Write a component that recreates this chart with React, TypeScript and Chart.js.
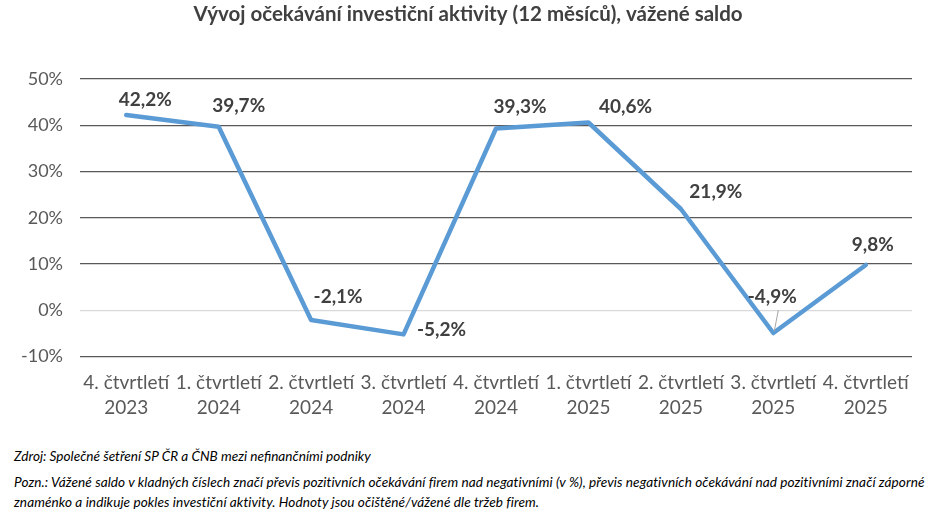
import React, { useEffect, useRef } from "react";
import { Chart, registerables } from "chart.js";

Chart.register(...registerables);

const categories: string[][] = [
  ["4. čtvrtletí", "2023"],
  ["1. čtvrtletí", "2024"],
  ["2. čtvrtletí", "2024"],
  ["3. čtvrtletí", "2024"],
  ["4. čtvrtletí", "2024"],
  ["1. čtvrtletí", "2025"],
  ["2. čtvrtletí", "2025"],
  ["3. čtvrtletí", "2025"],
  ["4. čtvrtletí", "2025"],
];
const saldo: number[] = [42.2, 39.7, -2.1, -5.2, 39.3, 40.6, 21.9, -4.9, 9.8];
const yTicks: number[] = [50, 40, 30, 20, 10, 0, -10];

const TITLE = "Vývoj očekávání investiční aktivity (12 měsíců), vážené saldo";
const SOURCE = "Zdroj: Společné šetření SP ČR a ČNB mezi nefinančními podniky";
const NOTE_LINES: string[] = [
  "Pozn.: Vážené saldo v kladných číslech značí převis pozitivních očekávání firem nad negativními (v %), převis negativních očekávání nad pozitivními značí záporné",
  "znaménko a indikuje pokles investiční aktivity. Hodnoty jsou očištěné/vážené dle tržeb firem.",
];

// label placement (pixel offsets of label centre from point), styling only
const labelOffsets: [number, number][] = [
  [19, -15],
  [20, -21],
  [27, -23],
  [38, -5],
  [24, -22],
  [37, -16],
  [35, -17],
  [-1, -36],
  [7, -20],
];
const leaderIndex = 7;

const fmt = (v: number) => v.toFixed(1).replace(".", ",") + "%";

const titlePlugin = {
  id: "centeredTitle",
  afterDraw(chart: any) {
    const ctx = chart.ctx;
    ctx.save();
    ctx.font = "bold 20.5px Lato";
    ctx.fillStyle = "#404040";
    ctx.textAlign = "center";
    ctx.textBaseline = "middle";
    ctx.fillText(TITLE, chart.width / 2 - 2, 14);
    ctx.restore();
  },
};

const labelPlugin = {
  id: "valueLabels",
  afterDatasetsDraw(chart: any) {
    const ctx = chart.ctx;
    const meta = chart.getDatasetMeta(0);
    ctx.save();
    meta.data.forEach((pt: any, i: number) => {
      const [dx, dy] = labelOffsets[i];
      const x = pt.x + dx;
      const y = pt.y + dy;
      if (i === leaderIndex) {
        ctx.strokeStyle = "#a6a6a6";
        ctx.lineWidth = 1;
        ctx.beginPath();
        ctx.moveTo(pt.x + 1, pt.y - 2);
        ctx.lineTo(pt.x + 5, pt.y - 23);
        ctx.stroke();
      }
      ctx.font = "bold 19px Lato";
      ctx.fillStyle = "#404040";
      ctx.textAlign = "center";
      ctx.textBaseline = "middle";
      ctx.fillText(fmt(saldo[i]), x, y);
    });
    ctx.restore();
  },
};

export default function App() {
  const ref = useRef<HTMLCanvasElement | null>(null);
  useEffect(() => {
    document.body.style.margin = "0";
    const canvas = ref.current!;
    const chart = new Chart(canvas, {
      type: "line",
      data: {
        labels: categories,
        datasets: [
          {
            data: saldo,
            borderColor: "#5b9bd5",
            borderWidth: 4.5,
            pointRadius: 0,
            tension: 0,
            borderCapStyle: "round",
            borderJoinStyle: "round",
            fill: false,
          },
        ],
      },
      options: {
        animation: false,
        responsive: false,
        devicePixelRatio: 1,
        layout: { padding: { left: 0, right: 28, top: 79, bottom: 6 } },
        plugins: {
          legend: { display: false },
          tooltip: { enabled: false },
          title: { display: false },
        },
        scales: {
          x: {
            offset: true,
            grid: { display: false, drawTicks: false },
            border: { display: false },
            ticks: {
              color: "#595959",
              font: { family: "Lato", size: 19, lineHeight: 1.3 },
              padding: 14,
              maxRotation: 0,
              autoSkip: false,
            },
          },
          y: {
            min: -10,
            max: 50,
            afterFit(scale: any) {
              scale.width = 80;
            },
            afterBuildTicks(scale: any) {
              scale.ticks = yTicks.map((v) => ({ value: v }));
            },
            grid: {
              drawTicks: false,
              lineWidth: 1.3,
              color: (c: any) => (c.tick && c.tick.value === 0 ? "#d9d9d9" : "#595959"),
            },
            border: { display: false },
            ticks: {
              color: "#595959",
              font: { family: "Lato", size: 18 },
              padding: 17,
              callback: (v: any) => v + "%",
            },
          },
        },
      },
      plugins: [labelPlugin, titlePlugin],
    } as any);
    return () => chart.destroy();
  }, []);

  const noteStyle: React.CSSProperties = {
    position: "absolute",
    left: 14,
    fontFamily: "Lato",
    fontStyle: "italic",
    fontSize: 13.6,
    color: "#000",
    whiteSpace: "nowrap",
    lineHeight: "20px",
  };

  return (
    <div style={{ position: "relative", width: 940, height: 513, background: "#fff" }}>
      <canvas ref={ref} width={940} height={440} style={{ display: "block" }} />
      <div style={{ ...noteStyle, top: 446 }}>{SOURCE}</div>
      <div style={{ ...noteStyle, top: 472, letterSpacing: "0.08px" }}>{NOTE_LINES[0]}</div>
      <div style={{ ...noteStyle, top: 492, letterSpacing: "0.08px" }}>{NOTE_LINES[1]}</div>
    </div>
  );
}
